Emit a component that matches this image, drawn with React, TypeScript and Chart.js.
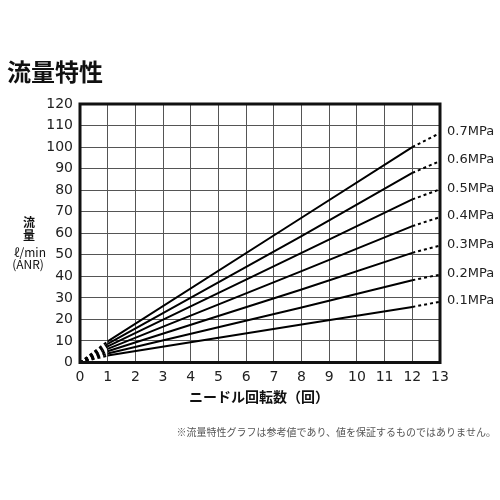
import React, { useEffect, useRef } from "react";
import { Chart, registerables } from "chart.js";

Chart.register(...registerables);

const FONT = '"Noto Sans CJK JP", "Noto Sans", sans-serif';
const NUM_FONT = '"DejaVu Sans", sans-serif';

// needle turns where values were read (0 and 13 are the dashed ends)
const turns = [0, 1, 8, 12, 13];
const pressures = ["0.7MPa", "0.6MPa", "0.5MPa", "0.4MPa", "0.3MPa", "0.2MPa", "0.1MPa"];
const flow07 = [0, 9.8, 67.2, 100, 106.5];
const flow06 = [0, 8.6, 58.7, 88, 93.5];
const flow05 = [0, 7.5, 50.9, 75.7, 80.4];
const flow04 = [0, 6.3, 42.4, 63.3, 67.5];
const flow03 = [0, 5.2, 33.9, 50.9, 54.3];
const flow02 = [0, 4.2, 25.5, 38.2, 40.8];
const flow01 = [0, 3.2, 17.6, 25.8, 28.2];
const flows = [flow07, flow06, flow05, flow04, flow03, flow02, flow01];

const texts = {
  title: "流量特性",
  yTitle: ["流", "量"],
  yUnit: ["ℓ/min", "(ANR)"],
  xTitle: "ニードル回転数（回）",
  note: "※流量特性グラフは参考値であり、値を保証するものではありません。",
};

const decorPlugin = {
  id: "decor",
  afterDraw(chart: any) {
    const { ctx, chartArea, scales } = chart;
    ctx.save();
    // thick frame
    ctx.strokeStyle = "#111";
    ctx.lineWidth = 3;
    ctx.strokeRect(chartArea.left, chartArea.top, chartArea.right - chartArea.left, chartArea.bottom - chartArea.top);

    // pressure labels at the line ends
    ctx.fillStyle = "#222";
    ctx.font = `13px ${NUM_FONT}`;
    ctx.textAlign = "left";
    ctx.textBaseline = "middle";
    flows.forEach((f, i) => {
      const y = scales.y.getPixelForValue(f[f.length - 1]);
      ctx.fillText(pressures[i], chartArea.right + 7, y - 1);
    });

    // chart title
    ctx.fillStyle = "#111";
    ctx.font = `bold 24px ${FONT}`;
    ctx.textBaseline = "top";
    ctx.fillText(texts.title, 7, 60);

    // y axis title
    ctx.textAlign = "center";
    ctx.font = `bold 12px ${FONT}`;
    ctx.fillText(texts.yTitle[0], 29, 216);
    ctx.fillText(texts.yTitle[1], 29, 229);
    ctx.font = `12px ${FONT}`;
    ctx.fillText(texts.yUnit[0], 30, 246);
    ctx.fillText(texts.yUnit[1], 28, 258);

    // x axis title
    ctx.font = `bold 14px ${FONT}`;
    ctx.textBaseline = "middle";
    ctx.fillText(texts.xTitle, 259, 397);

    // footnote
    ctx.font = `10px ${FONT}`;
    ctx.fillStyle = "#555";
    ctx.textAlign = "right";
    ctx.fillText(texts.note, 496, 432);
    ctx.restore();
  },
};

const App = () => {
  const ref = useRef<HTMLCanvasElement>(null!);

  useEffect(() => {
    const last = turns.length - 1;
    const chart = new Chart(ref.current, {
      type: "line",
      data: {
        datasets: flows.map((f, i) => ({
          label: pressures[i],
          data: turns.map((t, j) => ({ x: t, y: f[j] })),
          borderColor: "#000",
          borderWidth: 2,
          pointRadius: 0,
          fill: false,
          tension: 0,
          segment: {
            borderDash: (c: any) =>
              c.p0DataIndex === 0 || c.p1DataIndex === last ? [3, 3] : undefined,
          },
        })),
      },
      options: {
        animation: false,
        responsive: true,
        maintainAspectRatio: false,
        layout: { padding: { top: 104, right: 60, left: 0, bottom: 0 } },
        plugins: {
          legend: { display: false },
          tooltip: { enabled: false },
        },
        scales: {
          x: {
            type: "linear",
            min: 0,
            max: 13,
            afterFit: (s: any) => {
              s.height = 137.5;
            },
            ticks: { stepSize: 1, color: "#222", padding: 6, font: { family: NUM_FONT, size: 14 } },
            grid: { color: "#555", lineWidth: 1, drawTicks: false },
            border: { display: false },
          },
          y: {
            min: 0,
            max: 120,
            afterFit: (s: any) => {
              s.width = 80;
            },
            ticks: { stepSize: 10, color: "#222", padding: 7, font: { family: NUM_FONT, size: 14 } },
            grid: { color: "#555", lineWidth: 1, drawTicks: false },
            border: { display: false },
          },
        },
      },
      plugins: [decorPlugin],
    } as any);
    return () => {
      chart.destroy();
    };
  }, []);

  return (
    <div style={{ position: "absolute", left: 0, top: 0, width: 500, height: 500, background: "#fff" }}>
      <canvas ref={ref} />
    </div>
  );
};

export default App;
